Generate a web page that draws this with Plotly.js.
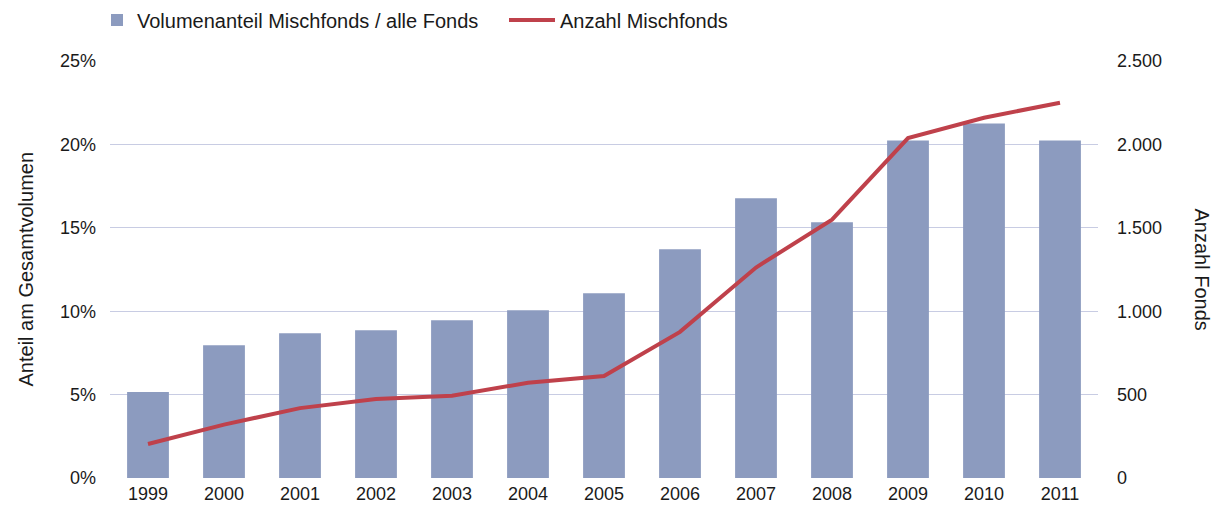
<!DOCTYPE html>
<html><head><meta charset="utf-8">
<script src="https://cdn.plot.ly/plotly-3.0.1.min.js"></script>
<style>body{margin:0;background:#fff}#c{width:1223px;height:505px}</style>
</head><body><div id="c"></div>
<script>
const years = ['1999','2000','2001','2002','2003','2004','2005','2006','2007','2008','2009','2010','2011'];
const volumeShare = [5.15, 7.96, 8.68, 8.86, 9.46, 10.06, 11.08, 13.71, 16.77, 15.33, 20.24, 21.26, 20.24];
const fundCount = [204, 320, 419, 473, 493, 571, 611, 876, 1262, 1549, 2038, 2160, 2250];
const leftTicks = [0, 5, 10, 15, 20, 25];
const rightTicks = [0, 500, 1000, 1500, 2000, 2500];

const fam = 'Liberation Sans, Arial, Helvetica, sans-serif';
const tickFont = {family: fam, size: 18, color: '#1a1a1a'};
const bigFont = {family: fam, size: 20, color: '#1a1a1a'};
const data = [
  {type: 'bar', x: years, y: volumeShare, name: 'Volumenanteil Mischfonds / alle Fonds',
   marker: {color: '#8c9bbf'}, hoverinfo: 'none', legend: 'legend'},
  {type: 'scatter', mode: 'lines', x: years, y: fundCount, yaxis: 'y2', name: 'Anzahl Mischfonds',
   line: {color: '#bf414b', width: 4}, hoverinfo: 'none', legend: 'legend2'}
];
const layout = {
  width: 1223, height: 505,
  margin: {l: 110, r: 125, t: 61, b: 27, autoexpand: false},
  paper_bgcolor: '#fff', plot_bgcolor: '#fff',
  font: tickFont,
  separators: ',.',
  bargap: 0.45,
  showlegend: true,
  legend: {xref: 'container', yref: 'container', x: 97 / 1223, xanchor: 'left',
           y: 1 - 20 / 505, yanchor: 'middle', font: bigFont, bgcolor: 'rgba(0,0,0,0)'},
  legend2: {xref: 'container', yref: 'container', x: 504 / 1223, xanchor: 'left',
            y: 1 - 20 / 505, yanchor: 'middle', font: bigFont, itemwidth: 46, bgcolor: 'rgba(0,0,0,0)'},
  xaxis: {type: 'category', showgrid: false, zeroline: false, showline: false,
          ticks: '', tickfont: tickFont, ticklabelstandoff: 3, fixedrange: true},
  yaxis: {range: [0, 25], tickvals: leftTicks, ticktext: leftTicks.map(v => v + '%'),
          showgrid: true, gridcolor: '#c8cce3', gridwidth: 1.2, zeroline: false, showline: false,
          ticks: '', ticklabelstandoff: 13, tickfont: tickFont},
  yaxis2: {range: [0, 2500], overlaying: 'y', side: 'right', tickvals: rightTicks,
           tickformat: ',d', showgrid: false, zeroline: false, showline: false,
           ticks: '', ticklabelstandoff: 18, tickfont: tickFont},
  annotations: [
    {text: 'Anteil am Gesamtvolumen', xref: 'paper', yref: 'paper', x: 0, xshift: -85,
     xanchor: 'center', yanchor: 'middle', y: 0.5, textangle: -90, showarrow: false, font: bigFont},
    {text: 'Anzahl Fonds', xref: 'paper', yref: 'paper', x: 1.0, xshift: 104,
     xanchor: 'center', yanchor: 'middle', y: 0.5, textangle: 90, showarrow: false, font: bigFont}
  ]
};
Plotly.newPlot('c', data, layout, {staticPlot: true});
</script></body></html>
